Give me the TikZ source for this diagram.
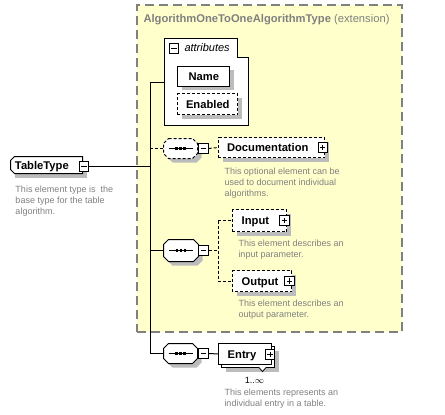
\documentclass[tikz,border=0pt]{standalone}
\usepackage{fontspec}
\setmainfont{Liberation Sans}
\definecolor{ylw}{RGB}{255,255,204}
\definecolor{bordgray}{RGB}{128,128,128}
\definecolor{shgray}{RGB}{188,188,188}
\definecolor{txtgray}{RGB}{128,128,128}
% octagon path round node #1, chamfer #2, shifted by (#3,#4)
\newcommand\octpath[4]{([shift={(#3+#2,#4)}]#1.north west) -- ([shift={(#3-#2,#4)}]#1.north east) -- ([shift={(#3,#4-#2)}]#1.north east) -- ([shift={(#3,#4+#2)}]#1.south east) -- ([shift={(#3-#2,#4)}]#1.south east) -- ([shift={(#3+#2,#4)}]#1.south west) -- ([shift={(#3,#4+#2)}]#1.south west) -- ([shift={(#3,#4-#2)}]#1.north west) -- cycle}
\newcommand\octo[2][]{%
  \fill[shgray] \octpath{#2}{5pt}{4pt}{-4pt};
  \draw[fill=white,#1] \octpath{#2}{5pt}{0pt}{0pt};
  \draw[solid] ([xshift=-12pt]#2.center) -- ([xshift=12pt]#2.center);
  \foreach \dx in {-5.3,-1.3,2.7}{\fill ([xshift=\dx pt,yshift=-1.3pt]#2.center) rectangle ++(2.6pt,2.6pt);}}
\newcommand\boxshadow[1]{\fill[shgray] ([shift={(4pt,-4pt)}]#1.south west) -- ([shift={(4pt,-4pt)}]#1.south east) -- ([shift={(4pt,-4pt)}]#1.north east) -- ([shift={(4pt,-4pt)}]#1.north west) -- cycle;}
\begin{document}
\begin{tikzpicture}[x=1pt,y=-1pt,line width=1pt,
 anch/.style={rectangle,inner sep=0},
 dsh/.style={dash pattern=on 3pt off 2pt},
 lbl/.style={inner sep=0,font=\fontsize{11.2}{13}\selectfont\bfseries,text height=8pt,text depth=0pt},
 desc/.style={inner sep=0,align=left,font=\fontsize{9}{11}\selectfont,text=txtgray,anchor=north west},
 pmbox/.style={draw,fill=white,rectangle,minimum size=9.5pt,inner sep=0,solid,line width=0.8pt},
 minusbox/.style={pmbox,path picture={\draw[line width=0.8pt] ([xshift=2pt]path picture bounding box.west) -- ([xshift=-2pt]path picture bounding box.east);}},
 plusbox/.style={pmbox,path picture={\draw[line width=0.8pt] ([xshift=2pt]path picture bounding box.west) -- ([xshift=-2pt]path picture bounding box.east) ([yshift=-2pt]path picture bounding box.north) -- ([yshift=2pt]path picture bounding box.south);}}
]
\useasboundingbox (0,0) rectangle (445,415);
% extension area
\node[draw=bordgray,fill=ylw,line width=1.5pt,dash pattern=on 9pt off 5pt,rectangle,inner sep=0,minimum width=265pt,minimum height=327pt] (ext) at (269.5,168.5) {};
\node[anchor=base west,inner sep=0,text=txtgray,font=\fontsize{11.2}{13}\selectfont] (title) at (143,23) {\textbf{AlgorithmOneToOneAlgorithmType} (extension)};
% attributes
\draw[fill=white] (164,38) -- (237,38) -- (237,57) -- (248,57) -- (248,125) -- (164,125) -- cycle;
\coordinate (attrW) at (164,82);
\node[minusbox] (attrm) at (174,48.5) {};
\node[anchor=base west,inner sep=0,font=\fontsize{11}{13}\selectfont\itshape] (attrT) at (184,52) {attributes};
\node[anch,minimum width=51pt,minimum height=19.3pt] (name) at (203.8,76.3) {};
\boxshadow{name}
\draw[fill=white] (name.south west) rectangle (name.north east);
\node[lbl] (nameT) at (name.center) {Name};
\node[anch,minimum width=59pt,minimum height=20pt] (enab) at (207.8,104.3) {};
\boxshadow{enab}
\draw[fill=white,dsh] (enab.south west) rectangle (enab.north east);
\node[lbl] (enabT) at (enab.center) {Enabled};
% TableType
\node[anch,minimum width=71pt,minimum height=16pt] (tt) at (46.5,165) {};
\boxshadow{tt}
\draw[fill=white] ([xshift=4pt]tt.north west) -- (tt.north east) -- (tt.south east) -- ([xshift=4pt]tt.south west) -- ([yshift=4pt]tt.south west) -- ([yshift=-4pt]tt.north west) -- cycle;
\node[lbl,anchor=west] (ttT) at ([xshift=4pt]tt.west) {TableType};
\node[minusbox] (ttm) at (84,166.5) {};
\node[desc] (ttD) at (15,185) {This element type is\ \ the\\base type for the table\\algorithm.};
% spine
\coordinate (sp0) at (150,82);
\coordinate (sp1) at (150,353.5);
\draw (sp0) -- (sp1);
\draw (sp0) -- (attrW);
\draw (ttm.east) -- (ttm.east -| sp0);
% sequence 1 (optional)
\node[anch,minimum width=33pt,minimum height=19pt] (seq1) at (180.5,148.5) {};
\octo[dsh]{seq1}
\node[minusbox] (seq1m) at (203.5,148.5) {};
\draw[dsh] (seq1.west -| sp0) -- (seq1.west);
\draw (seq1.east) -- (seq1m.west);
\node[anch,minimum width=105pt,minimum height=19pt] (doc) at (271.5,147.5) {};
\boxshadow{doc}
\draw[fill=white,dsh] (doc.south west) rectangle (doc.north east);
\node[lbl,anchor=west] (docT) at ([xshift=8pt]doc.west) {Documentation};
\node[plusbox] (docp) at (322.7,147.5) {};
\draw[dsh] (seq1m.east) -- (doc.west);
\node[desc] (docD) at (224,167) {This optional element can be\\used to document individual\\algorithms.};
% sequence 2
\node[anch,minimum width=34pt,minimum height=21pt] (seq2) at (181,250.5) {};
\octo{seq2}
\node[minusbox] (seq2m) at (203.5,250.5) {};
\draw (seq2.west -| sp0) -- (seq2.west);
\draw (seq2.east) -- (seq2m.west);
\node[anch,minimum width=53pt,minimum height=21pt] (inp) at (259.5,220.5) {};
\boxshadow{inp}
\draw[fill=white,dsh] (inp.south west) rectangle (inp.north east);
\node[lbl,anchor=west] (inpT) at ([xshift=8.7pt]inp.west) {Input};
\node[plusbox] (inpp) at (284.3,220.5) {};
\node[anch,minimum width=58pt,minimum height=20pt] (outp) at (262,281) {};
\boxshadow{outp}
\draw[fill=white,dsh] (outp.south west) rectangle (outp.north east);
\node[lbl,anchor=west] (outpT) at ([xshift=8.7pt]outp.west) {Output};
\node[plusbox] (outpp) at (289.5,281) {};
\coordinate (br) at (218,250.5);
\draw[dsh] (seq2m.east) -- (br);
\draw[dsh] (br |- inp.west) -- (br |- outp.west);
\draw[dsh] (br |- inp.west) -- (inp.west);
\draw[dsh] (br |- outp.west) -- (outp.west);
\node[desc] (inpD) at (238,239.3) {This element describes an\\input parameter.};
\node[desc] (outpD) at (238,299.3) {This element describes an\\output parameter.};
% sequence 3
\node[anch,minimum width=33pt,minimum height=19pt] (seq3) at (180.5,353.5) {};
\octo{seq3}
\node[minusbox] (seq3m) at (203.5,353.5) {};
\draw (sp1) -- (seq3.west);
\draw (seq3.east) -- (seq3m.west);
\node[anch,minimum width=52pt,minimum height=20pt] (entryB) at (248,357) {};
\node[anch,minimum width=52pt,minimum height=20pt] (entry) at (245,354) {};
\boxshadow{entryB}
\draw[fill=white] (entryB.south west) rectangle (entryB.north east);
\draw[fill=white] (entry.south west) rectangle (entry.north east);
\node[lbl,anchor=west] (entryT) at ([xshift=8.7pt]entry.west) {Entry};
\node[plusbox] (entryp) at (270,354.3) {};
\draw (seq3m.east) -- (entry.west);
\draw[fill=white,line width=0.8pt] (258.5,367) -- (262.5,371.5) -- (266.5,367);
\node[inner sep=0,font=\fontsize{9}{11}\selectfont] (occ) at (254.5,380) {1..\ensuremath{\infty}};
\node[desc] (entryD) at (224,388.3) {This elements represents an\\individual entry in a table.};
\end{tikzpicture}
\end{document}
